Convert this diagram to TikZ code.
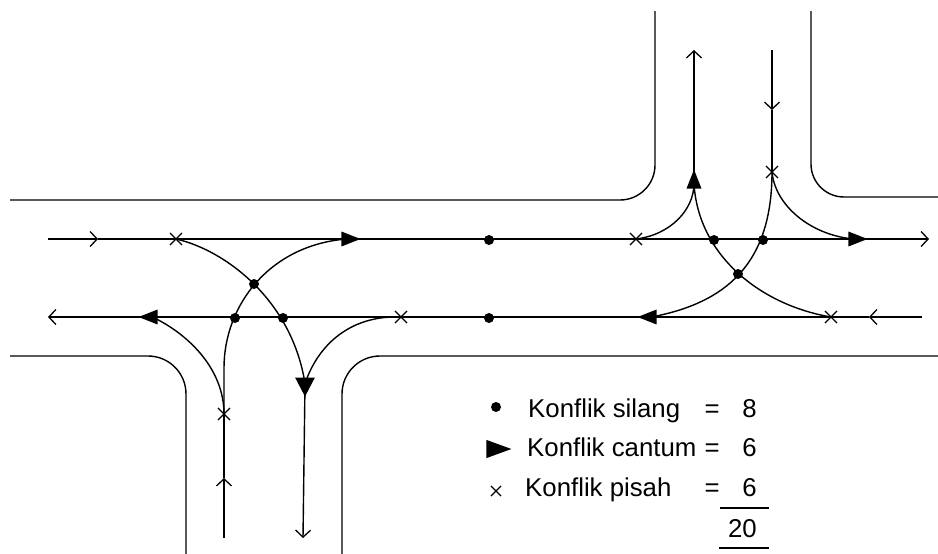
\documentclass[tikz,border=0pt]{standalone}
\usepackage{fontspec}
\setmainfont{Liberation Sans}
\usetikzlibrary{arrows.meta,shapes.geometric,shapes.misc}
\tikzset{
	road/.style={line width=1.4pt},
	lane/.style={line width=1.4pt},
	chevron/.style={line width=1.4pt, -{Straight Barb[length=7pt,width=15pt,line width=1.3pt]}},
	silang/.style={circle, fill=black, inner sep=0pt, minimum size=10pt},
	pisah/.style={cross out, draw=black, line width=1.1pt, inner sep=0pt, minimum size=11pt},
	cantum/.style={isosceles triangle, isosceles triangle apex angle=43, fill=black, inner sep=0pt,
			anchor=apex, shape border rotate=#1, minimum height=19pt},
	legend/.style={anchor=base west, inner sep=0pt, font=\fontsize{25.8}{30}\selectfont},
	total/.style={anchor=base east, inner sep=0pt, font=\fontsize{25.8}{30}\selectfont}
}

\begin{document}
\begin{tikzpicture}[x=1pt,y=-1pt]
	\useasboundingbox (0,0) rectangle (938,554);

	% Road edges
	\draw[road, rounded corners=35pt] (10,200) -- (655,200) -- (655,11);
	\draw[road, rounded corners=33pt] (811,11) -- (811,197) -- (938,197);
	\draw[road, rounded corners=38pt] (10,356) -- (186,356) -- (186,554);
	\draw[road, rounded corners=38pt] (342,554) -- (342,356) -- (938,356);

	% Conflict points
	\foreach \name/\px/\py in {s1/489/240, s2/489/318, s3/714/240, s4/763/240, s5/738/274, s6/254/284, s7/235/318, s8/283/318}
		\node[silang] (\name) at (\px,\py) {};
	\foreach \name/\px/\py in {p1/176/239, p2/401/317, p3/636/239, p4/772/172, p5/831/317, p6/224/414}
		\node[pisah] (\name) at (\px,\py) {};
	\node[cantum=0] (c1) at (361,239) {};
	\node[cantum=180] (c2) at (138,317) {};
	\node[cantum=90] (c3) at (694,169) {};
	\node[cantum=270, isosceles triangle apex angle=55] (c4) at (305,397) {};
	\node[cantum=180] (c5) at (637,317) {};
	\node[cantum=0] (c6) at (868,239) {};

	% Lane ends
	\coordinate (a1) at (48,239);
	\coordinate (a2) at (98,239);
	\coordinate (a3) at (929,239);
	\coordinate (b1) at (922,317);
	\coordinate (b2) at (869,317);
	\coordinate (b3) at (48,317);
	\coordinate (d1) at (694,50);
	\coordinate (e1) at (772,50);
	\coordinate (e2) at (772,110);
	\coordinate (f1) at (224,538);
	\coordinate (f2) at (224,478);
	\coordinate (g1) at (303,538);
	\coordinate (h1) at (224,368);

	% Straight lanes
	\draw[chevron] (a1) -- (a2);
	\draw[chevron] (a2) -- (a3);
	\draw[chevron] (b1) -- (b2);
	\draw[chevron] (b2) -- (b3);
	\draw[chevron] (c3.center) -- (d1);
	\draw[chevron] (e1) -- (e2);
	\draw[lane] (e2) -- (p4.center);
	\draw[chevron] (f1) -- (f2);
	\draw[lane] (f2) -- (p6.center);
	\draw[chevron] (c4.center) -- (g1);

	% Turning movements, right side
	\draw[lane] (p3.center) .. controls (670,235) and (694,210) .. (c3.center);
	\draw[lane] (c3.center) .. controls (698,255) and (760,305) .. (p5.center);
	\draw[lane] (p4.center) .. controls (772,265) and (725,303) .. (c5.center);
	\draw[lane] (p4.center) .. controls (775,205) and (810,235) .. (c6.center);

	% Turning movements, left side
	\draw[lane] (p1.center) .. controls (225,250) and (292,300) .. (c4.center);
	\draw[lane] (c1.center) .. controls (270,245) and (224,305) .. (h1) -- (p6.center);
	\draw[lane] (p6.center) .. controls (224,370) and (190,335) .. (c2.center);
	\draw[lane] (p2.center) .. controls (350,315) and (318,345) .. (c4.center);

	% Legend
	\node[silang] (ls) at (496,407) {};
	\node[cantum=0, minimum height=25pt, isosceles triangle apex angle=40] (lc) at (512,449) {};
	\node[pisah, minimum size=9pt] (lp) at (496,491) {};
	\node[legend] (t1) at (528,417) {Konflik silang};
	\node[legend] (t2) at (527,456) {Konflik cantum};
	\node[legend] (t3) at (525,496) {Konflik pisah};
	\foreach \name/\py/\val in {n1/417/8, n2/456/6, n3/496/6} {
		\node[total] (e\name) at (720,\py) {=};
		\node[total] (\name) at (757,\py) {\val};
	}
	\node[total] (n4) at (757,537) {20};
	\coordinate (r1) at (720,508);
	\coordinate (r2) at (769,508);
	\coordinate (r3) at (719,548);
	\coordinate (r4) at (769,548);
	\draw[line width=1.6pt] (r1) -- (r2);
	\draw[line width=1.6pt] (r3) -- (r4);
\end{tikzpicture}
\end{document}
